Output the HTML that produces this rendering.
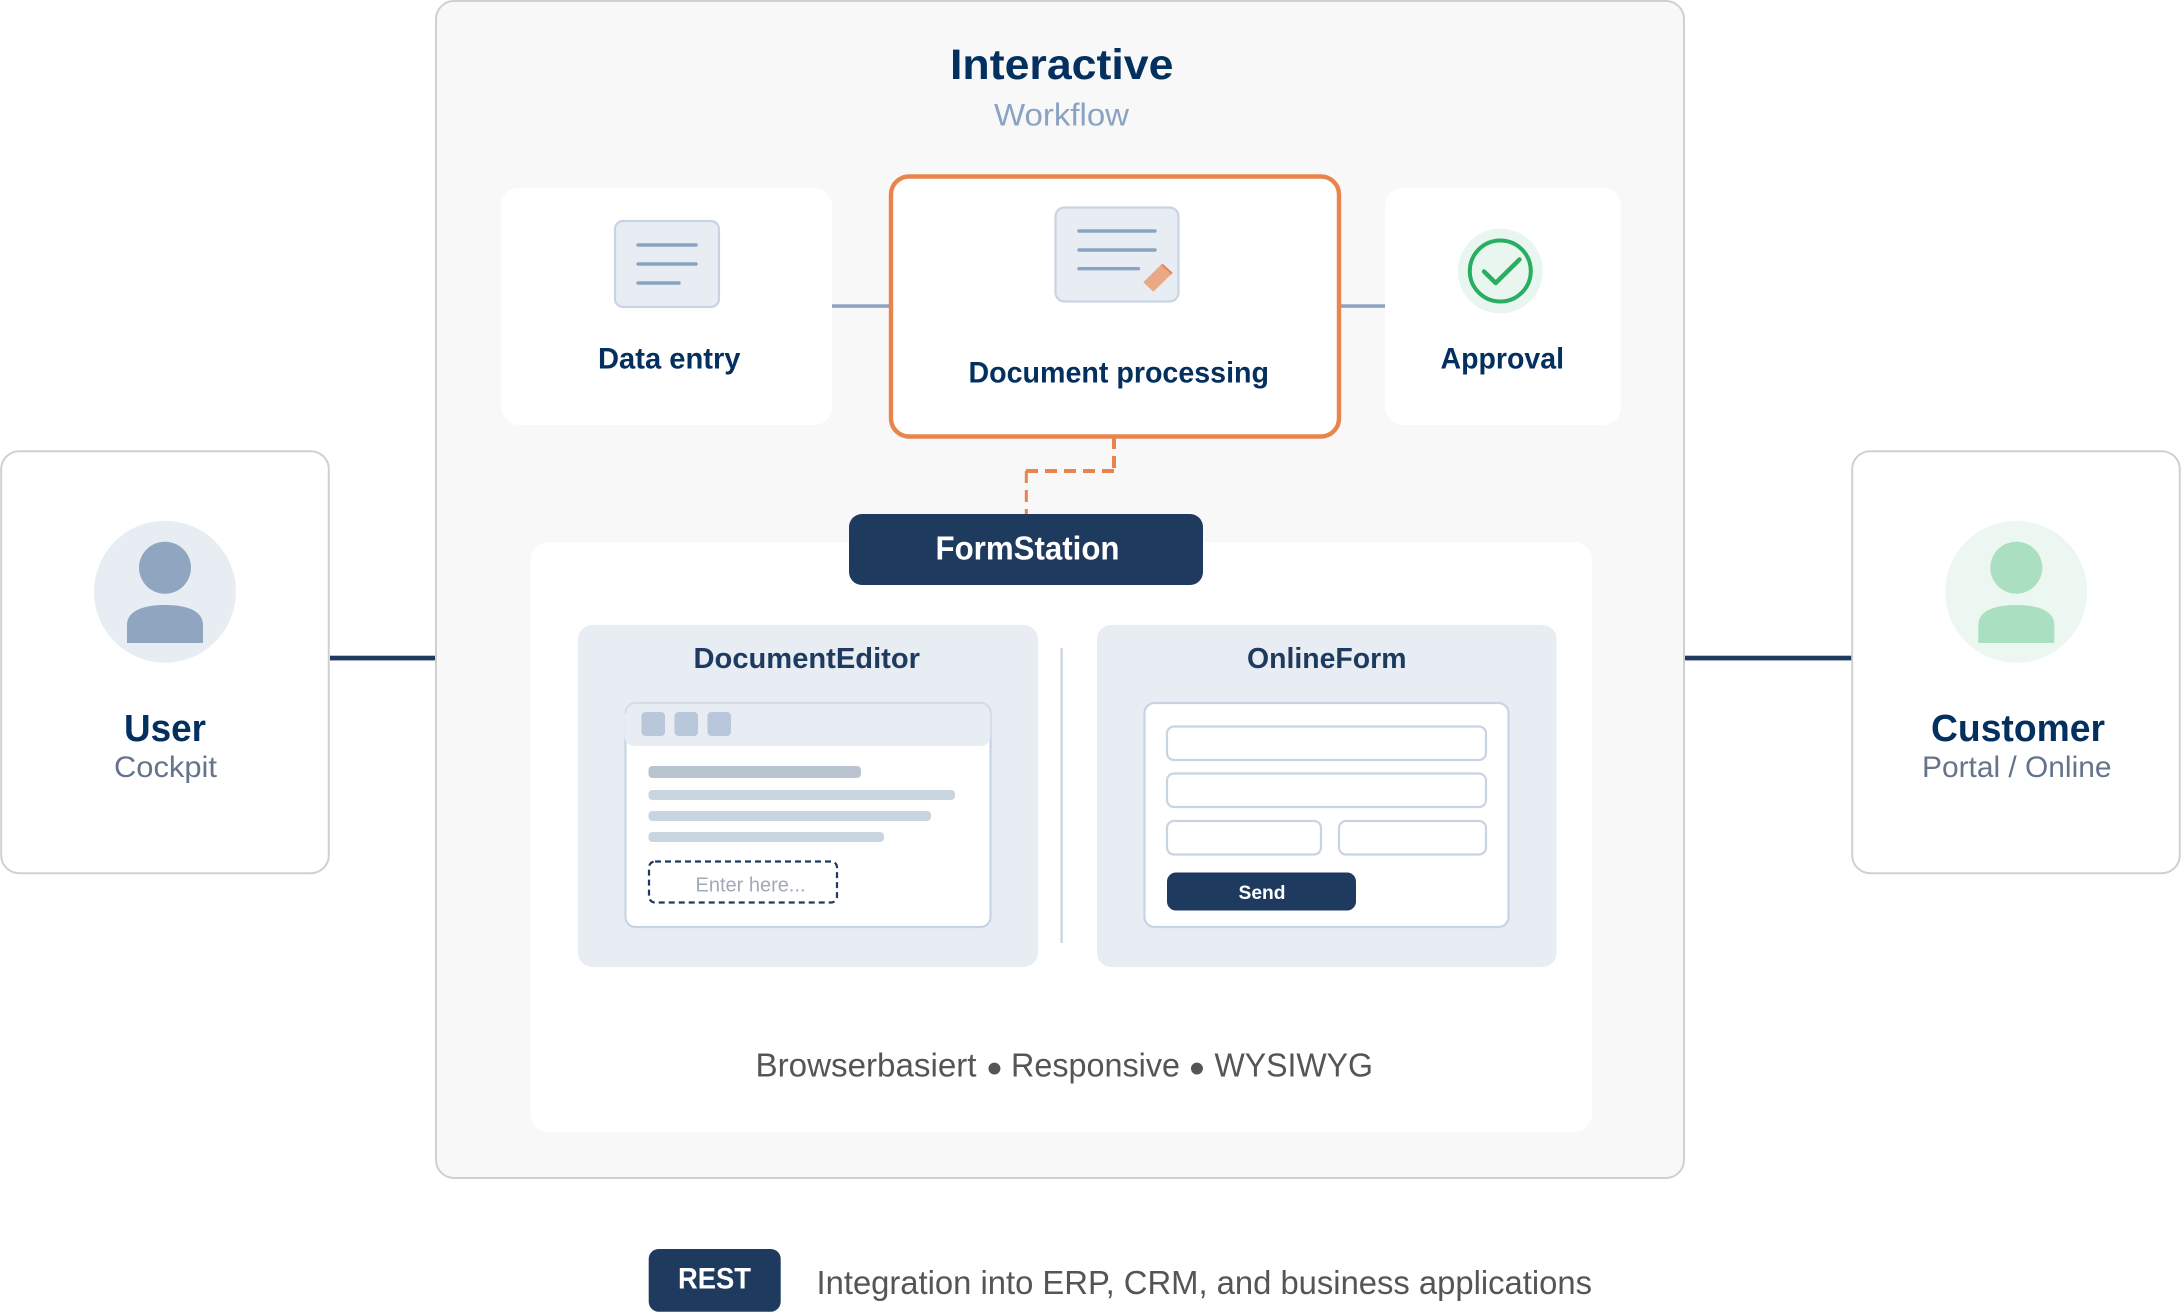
<!DOCTYPE html>
<html><head><meta charset="utf-8"><style>html,body{margin:0;padding:0;background:#fff}svg{display:block}text{font-family:"Liberation Sans",sans-serif}.b{font-weight:700}</style></head><body>
<svg xmlns="http://www.w3.org/2000/svg" width="2182" height="1312" viewBox="0 0 2182 1312">
<rect width="2182" height="1312" fill="#fff"/>
<!-- side connectors -->
<rect x="330" y="655.7" width="106" height="4.7" fill="#1e3a5f"/>
<rect x="1684" y="655.7" width="168" height="4.7" fill="#1e3a5f"/>
<!-- user card -->
<rect x="1.2" y="451.2" width="327.6" height="422" rx="18" fill="#fff" stroke="#d0d0d0" stroke-width="2"/>
<circle cx="165" cy="591.7" r="71" fill="#e8edf4"/>
<circle cx="165" cy="567.7" r="26" fill="#8fa5c0"/>
<path d="M127 643V625C127 610 145 605 165 605C185 605 203 610 203 625V643Z" fill="#8fa5c0"/>
<text class="b" x="124" y="741" font-size="38" fill="#03305f" textLength="82" lengthAdjust="spacingAndGlyphs">User</text>
<text x="114" y="777" font-size="29.5" fill="#64748b" textLength="103" lengthAdjust="spacingAndGlyphs">Cockpit</text>
<!-- customer card -->
<rect x="1852.2" y="451.2" width="327.6" height="422" rx="18" fill="#fff" stroke="#d0d0d0" stroke-width="2"/>
<circle cx="2016.3" cy="591.7" r="71" fill="#edf7f2"/>
<circle cx="2016.3" cy="567.7" r="26" fill="#abdfc2"/>
<path d="M1978.3 643V625C1978.3 610 1996.3 605 2016.3 605C2036.3 605 2054.3 610 2054.3 625V643Z" fill="#abdfc2"/>
<text class="b" x="1931" y="741" font-size="38" fill="#03305f" textLength="174" lengthAdjust="spacingAndGlyphs">Customer</text>
<text x="1922" y="777" font-size="29.5" fill="#64748b" textLength="189.5" lengthAdjust="spacingAndGlyphs">Portal / Online</text>
<!-- main box -->
<rect x="436" y="1" width="1248" height="1177" rx="18" fill="#f8f8f8" stroke="#d0d0d0" stroke-width="2"/>
<text class="b" x="950" y="79" font-size="43" fill="#03305f" textLength="223.5" lengthAdjust="spacingAndGlyphs">Interactive</text>
<text x="994" y="125.5" font-size="31.5" fill="#8aa3c2" textLength="135" lengthAdjust="spacingAndGlyphs">Workflow</text>
<!-- step connectors -->
<rect x="830" y="304.3" width="62" height="3.5" fill="#8aa3c2"/>
<rect x="1338" y="304.3" width="50" height="3.5" fill="#8aa3c2"/>
<!-- step cards -->
<rect x="501" y="188" width="331" height="237" rx="18" fill="#fff"/>
<rect x="1385" y="188" width="236" height="237" rx="18" fill="#fff"/>
<rect x="891" y="176.5" width="448" height="260" rx="18" fill="#fff" stroke="#e8844c" stroke-width="4.4"/>
<!-- data entry icon -->
<rect x="615" y="221" width="104" height="86" rx="8" fill="#e8edf4" stroke="#c8d4e3" stroke-width="2.2"/>
<g stroke="#8aa3c2" stroke-width="3.4" stroke-linecap="round"><line x1="638" y1="245" x2="696" y2="245"/><line x1="638" y1="264" x2="696" y2="264"/><line x1="638" y1="283" x2="679" y2="283"/></g>
<text class="b" x="598" y="368.5" font-size="30" fill="#03305f" textLength="142.5" lengthAdjust="spacingAndGlyphs">Data entry</text>
<!-- doc icon -->
<rect x="1055.5" y="207.5" width="123" height="94" rx="9" fill="#e8edf4" stroke="#c8d4e3" stroke-width="2.2"/>
<g stroke="#8aa3c2" stroke-width="3.4" stroke-linecap="round"><line x1="1079" y1="231" x2="1155" y2="231"/><line x1="1079" y1="250" x2="1155" y2="250"/><line x1="1079" y1="268.7" x2="1138.5" y2="268.7"/></g>
<polygon points="1161.7,264 1172.3,273.3 1153.3,291.7 1143.3,282.3" fill="#eaa985"/>
<line x1="1162" y1="264.5" x2="1172" y2="273.5" stroke="#e8844c" stroke-width="2"/>
<text class="b" x="968.5" y="382.7" font-size="30" fill="#03305f" textLength="300.5" lengthAdjust="spacingAndGlyphs">Document processing</text>
<!-- approval icon -->
<circle cx="1500.3" cy="271" r="42.5" fill="#e9f6ef"/>
<circle cx="1500.3" cy="271" r="30.5" fill="none" stroke="#27ae60" stroke-width="4"/>
<polyline points="1484,271.5 1495.7,283 1519.5,259.5" fill="none" stroke="#27ae60" stroke-width="4.4" stroke-linecap="round" stroke-linejoin="round"/>
<text class="b" x="1440.5" y="368.5" font-size="30" fill="#03305f" textLength="123.5" lengthAdjust="spacingAndGlyphs">Approval</text>
<!-- dashed -->
<g fill="none" stroke="#e8844c" stroke-dasharray="12 7">
<line x1="1114" y1="437" x2="1114" y2="469" stroke-width="4"/>
<line x1="1114" y1="471" x2="1026" y2="471" stroke-width="4"/>
<line x1="1026.3" y1="471" x2="1026.3" y2="514" stroke-width="3"/>
</g>
<!-- white panel -->
<rect x="530.5" y="542" width="1061.5" height="590" rx="18" fill="#fff"/>
<!-- formstation -->
<rect x="849" y="514" width="354" height="71" rx="13" fill="#1e3a5f"/>
<text class="b" x="935.5" y="559.5" font-size="33" fill="#fff" textLength="184" lengthAdjust="spacingAndGlyphs">FormStation</text>
<!-- panels -->
<rect x="578" y="625" width="460" height="342" rx="14" fill="#e8edf4"/>
<rect x="1097" y="625" width="459.5" height="342" rx="14" fill="#e8edf4"/>
<rect x="1060.5" y="648" width="2.2" height="295" fill="#c8d4e3"/>
<text class="b" x="693.5" y="668" font-size="29" fill="#1e3a5f" textLength="226.5" lengthAdjust="spacingAndGlyphs">DocumentEditor</text>
<text class="b" x="1247" y="668" font-size="29" fill="#1e3a5f" textLength="159.5" lengthAdjust="spacingAndGlyphs">OnlineForm</text>
<!-- editor window -->
<rect x="625.5" y="703" width="365" height="224" rx="10" fill="#fff" stroke="#c8d4e3" stroke-width="2.2"/>
<path d="M624.5 712a10 10 0 0 1 10-10h346a10 10 0 0 1 10 10v24a10 10 0 0 1-10 10h-346a10 10 0 0 1-10-10z" fill="#e8edf4"/>
<path d="M625.5 713a10 10 0 0 1 10-10h345a10 10 0 0 1 10 10" fill="none" stroke="#d3dce8" stroke-width="2"/>
<rect x="641.5" y="712" width="23.5" height="24" rx="4" fill="#b8c8da"/>
<rect x="674.5" y="712" width="23.5" height="24" rx="4" fill="#b8c8da"/>
<rect x="707.5" y="712" width="23.5" height="24" rx="4" fill="#b8c8da"/>
<rect x="648.5" y="766" width="212.5" height="12" rx="4" fill="#bac3d0"/>
<rect x="648.5" y="790" width="306.5" height="10" rx="4" fill="#c8d4e0"/>
<rect x="648.5" y="811" width="282.5" height="10" rx="4" fill="#c8d4e0"/>
<rect x="648.5" y="832" width="235.5" height="10" rx="4" fill="#c8d4e0"/>
<rect x="649" y="861.5" width="188" height="41" rx="6" fill="#fff" stroke="#1e3a5f" stroke-width="2.2" stroke-dasharray="6 4"/>
<text x="695.5" y="891.5" font-size="20.5" fill="#a0aab8" textLength="110" lengthAdjust="spacingAndGlyphs">Enter here...</text>
<!-- form window -->
<rect x="1144.5" y="703" width="364" height="224" rx="10" fill="#fff" stroke="#c8d4e3" stroke-width="2.2"/>
<g fill="#fff" stroke="#c8d4e3" stroke-width="2.2">
<rect x="1167" y="726.5" width="319" height="33.5" rx="7"/>
<rect x="1167" y="773.5" width="319" height="33.5" rx="7"/>
<rect x="1167" y="821" width="154" height="33.5" rx="7"/>
<rect x="1339" y="821" width="147" height="33.5" rx="7"/>
</g>
<rect x="1167" y="872.5" width="189" height="38" rx="9" fill="#1e3a5f"/>
<text class="b" x="1238.5" y="899" font-size="19.5" fill="#fff" textLength="47" lengthAdjust="spacingAndGlyphs">Send</text>
<!-- caption -->
<text x="755.5" y="1076.7" font-size="33.5" fill="#555" textLength="221" lengthAdjust="spacingAndGlyphs">Browserbasiert</text>
<text x="994.5" y="1083" font-size="44" fill="#555" text-anchor="middle">•</text>
<text x="1011" y="1076.7" font-size="33.5" fill="#555" textLength="169" lengthAdjust="spacingAndGlyphs">Responsive</text>
<text x="1197" y="1083" font-size="44" fill="#555" text-anchor="middle">•</text>
<text x="1214.5" y="1076.7" font-size="33.5" fill="#555" textLength="158.5" lengthAdjust="spacingAndGlyphs">WYSIWYG</text>
<!-- rest -->
<rect x="648.7" y="1249" width="132" height="62.7" rx="10" fill="#1e3a5f"/>
<text class="b" x="678" y="1288.5" font-size="30" fill="#fff" textLength="73" lengthAdjust="spacingAndGlyphs">REST</text>
<text x="816.5" y="1294" font-size="33.5" fill="#555" textLength="775.5" lengthAdjust="spacingAndGlyphs">Integration into ERP, CRM, and business applications</text>
</svg>
</body></html>
